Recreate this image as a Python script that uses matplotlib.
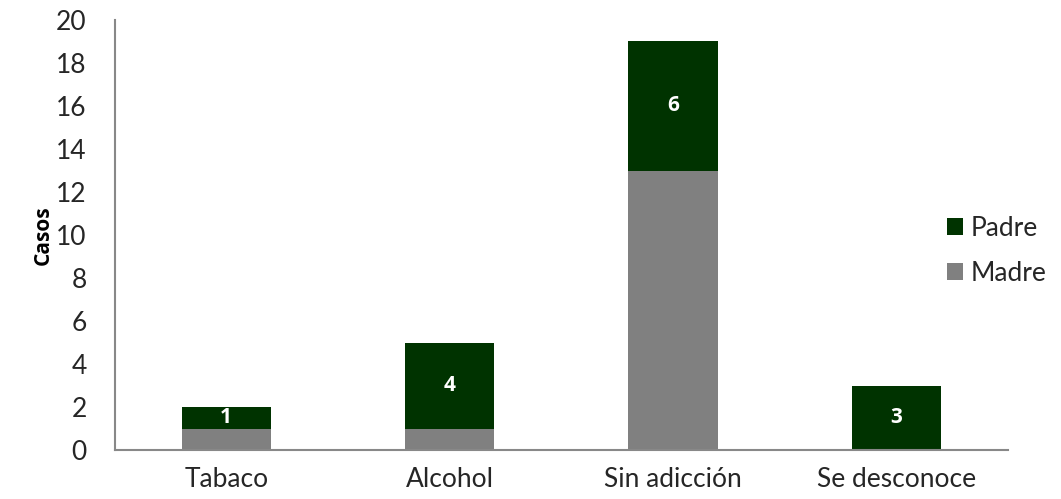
import matplotlib.pyplot as plt
import numpy as np

categorias = ["Tabaco", "Alcohol", "Sin adicción", "Se desconoce"]
madre = [1, 1, 13, 0]
padre = [1, 4, 6, 3]

verde = "#003300"
gris = "#808080"

plt.rcParams["font.family"] = ["Lato", "DejaVu Sans"]

fig = plt.figure(figsize=(10.61, 4.99), dpi=100)
ax = fig.add_axes([0.108, 0.098, 0.842, 0.862])

x = np.arange(len(categorias))
ancho = 0.4
ax.bar(x, madre, ancho, color=gris, label="Madre", zorder=2)
b_padre = ax.bar(x, padre, ancho, bottom=madre, color=verde, label="Padre", zorder=2)

# etiquetas solo en el segmento del padre
for rect, v in zip(b_padre, padre):
    ax.text(rect.get_x() + rect.get_width() / 2, rect.get_y() + rect.get_height() / 2,
            str(v), ha="center", va="center", color="white",
            fontsize=15, fontweight="bold", family=["Open Sans", "DejaVu Sans"])

ax.set_xlim(-0.5, len(categorias) - 0.5)
ax.set_ylim(0, 20)
ax.set_yticks(range(0, 21, 2))
ax.set_xticks(x)
ax.set_xticklabels(categorias)
ax.tick_params(axis="both", length=0, labelsize=19, colors="#262626")
ax.tick_params(axis="x", pad=12)
ax.tick_params(axis="y", pad=20)

for s in ["top", "right"]:
    ax.spines[s].set_visible(False)
for s in ["left", "bottom"]:
    ax.spines[s].set_color("#888888")
    ax.spines[s].set_linewidth(1.5)

ax.set_ylabel("Casos", fontsize=15, fontweight="bold",
              family=["Open Sans", "DejaVu Sans"], labelpad=2)

handles, labels = ax.get_legend_handles_labels()
leg = ax.legend(handles[::-1], labels[::-1], loc="center left",
                bbox_to_anchor=(0.905, 0.463), frameon=False, fontsize=19,
                handlelength=0.6, handleheight=0.6, handletextpad=0.3,
                labelspacing=0.75, labelcolor="#262626")

fig.savefig("out.png", dpi=100)
